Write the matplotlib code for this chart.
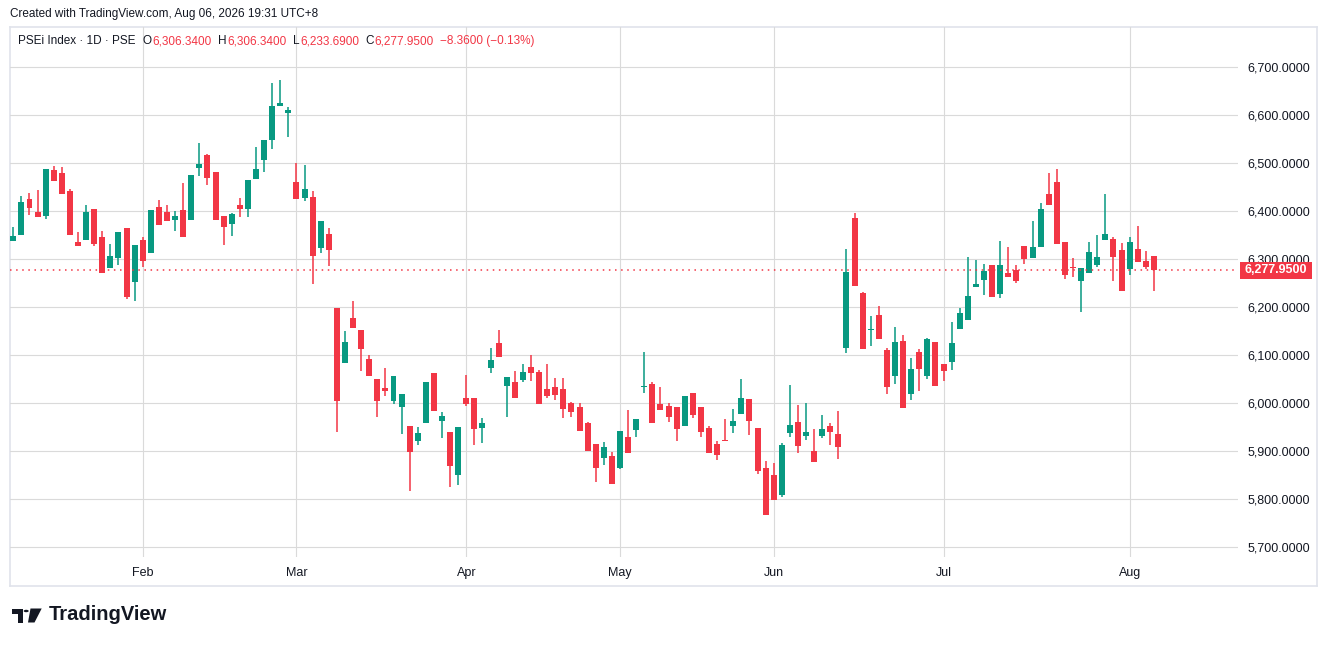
import matplotlib
matplotlib.use("Agg")
import matplotlib.pyplot as plt
from matplotlib.patches import Rectangle, Polygon, Circle

W, H = 1327, 646

# daily candles, PSEi, mid-Jan .. Aug 6 2026
opens = [6338.8, 6351.3, 6425.6, 6398.5, 6390.9, 6486.0, 6479.8, 6442.3, 6336.0, 6340.9,
         6404.8, 6346.5, 6282.6, 6303.5, 6365.2, 6253.4, 6340.2, 6313.8, 6408.9, 6398.5,
         6381.9, 6402.7, 6382.6, 6490.9, 6517.3, 6481.9, 6390.2, 6374.3, 6413.2, 6405.5,
         6468.0, 6507.6, 6549.3, 6620.1, 6605.5, 6461.1, 6428.4, 6429.8, 6324.3, 6352.8,
         6198.5, 6084.6, 6177.7, 6152.7, 6092.3, 6050.6, 6031.8, 6005.5, 5993.0, 5952.7,
         5922.1, 5959.6, 6063.1, 5963.8, 5940.2, 5851.3, 6011.0, 6011.0, 5949.2, 6074.2,
         6125.6, 6036.7, 6044.3, 6049.2, 6075.6, 6065.2, 6029.8, 6033.9, 6029.8, 6000.6,
         5992.3, 5958.9, 5915.2, 5886.7, 5890.2, 5865.9, 5929.8, 5945.0, 6033.9, 6040.2,
         5998.5, 5994.3, 5992.3, 5952.7, 6021.4, 5992.3, 5948.5, 5915.2, 5923.6, 5953.4,
         5978.4, 6009.0, 5948.6, 5865.2, 5850.7, 5809.0, 5938.9, 5961.1, 5932.6, 5900.7,
         5932.6, 5952.7, 5936.1, 6115.9, 6386.0, 6229.8, 6153.4, 6183.9, 6111.0, 6057.6,
         6129.8, 6020.1, 6106.9, 6057.6, 6127.7, 6081.9, 6086.7, 6155.5, 6173.6, 6243.0,
         6257.6, 6288.2, 6228.4, 6271.5, 6277.7, 6327.7, 6303.4, 6326.4, 6436.1, 6461.1,
         6336.1, 6284.0, 6255.5, 6272.2, 6288.9, 6340.2, 6342.3, 6319.4, 6280.5, 6321.5,
         6296.5, 6306.34]
highs = [6368.0, 6431.9, 6438.0, 6444.4, 6488.1, 6495.1, 6492.3, 6446.5, 6356.9, 6413.1,
         6404.8, 6359.0, 6331.9, 6356.9, 6365.2, 6329.8, 6346.5, 6402.7, 6423.5, 6413.1,
         6400.6, 6458.9, 6475.6, 6542.3, 6519.4, 6481.9, 6390.2, 6396.5, 6428.4, 6465.2,
         6534.0, 6548.6, 6667.3, 6673.6, 6617.3, 6500.6, 6496.5, 6442.3, 6379.8, 6365.2,
         6198.5, 6150.6, 6213.1, 6152.7, 6100.6, 6050.6, 6073.5, 6056.8, 6019.3, 5952.7,
         5950.6, 6044.3, 6063.1, 5981.8, 5940.2, 5950.6, 6058.9, 6011.0, 5969.3, 6115.2,
         6152.7, 6054.1, 6067.3, 6081.8, 6100.6, 6069.3, 6081.8, 6052.7, 6052.7, 6002.7,
         6000.6, 5961.0, 5915.2, 5919.3, 5898.5, 5942.3, 5986.0, 5967.3, 6106.8, 6044.3,
         6033.9, 6000.6, 5992.3, 6015.2, 6021.4, 5992.3, 5952.7, 5921.5, 5967.3, 5988.2,
         6050.7, 6009.0, 5948.6, 5879.8, 5875.7, 5917.3, 6038.2, 5996.5, 6000.7, 5946.5,
         5975.7, 5959.0, 5984.0, 6321.4, 6396.4, 6231.9, 6181.9, 6202.7, 6115.2, 6158.9,
         6142.3, 6094.4, 6113.1, 6136.0, 6127.7, 6081.9, 6169.4, 6198.5, 6304.8, 6298.6,
         6290.2, 6288.2, 6338.2, 6325.7, 6288.2, 6327.7, 6379.8, 6417.3, 6479.8, 6488.2,
         6336.1, 6302.7, 6281.9, 6336.1, 6350.7, 6436.0, 6346.5, 6334.0, 6346.5, 6369.4,
         6317.3, 6306.34]
lows = [6338.8, 6351.3, 6393.0, 6388.8, 6384.6, 6463.8, 6436.7, 6351.3, 6328.4, 6340.9,
        6328.4, 6272.1, 6282.6, 6288.2, 6218.0, 6213.8, 6284.7, 6313.8, 6372.1, 6380.5,
        6359.7, 6347.2, 6382.6, 6474.3, 6454.8, 6382.6, 6330.5, 6349.3, 6388.9, 6388.9,
        6468.0, 6482.6, 6530.5, 6620.1, 6555.5, 6426.4, 6422.2, 6249.3, 6313.9, 6286.8,
        5940.9, 6084.6, 6157.5, 6067.3, 6057.5, 5972.1, 6015.2, 5999.2, 5936.7, 5818.0,
        5913.8, 5959.6, 5984.6, 5928.4, 5826.3, 5830.5, 5995.0, 5913.8, 5917.3, 6063.8,
        6097.1, 5972.1, 6011.7, 6045.0, 6046.4, 5998.5, 6011.0, 6006.8, 5969.3, 5971.4,
        5943.0, 5901.3, 5836.7, 5872.1, 5832.5, 5863.8, 5897.1, 5930.5, 6021.4, 5958.9,
        5986.0, 5961.0, 5921.4, 5952.7, 5969.3, 5929.8, 5897.1, 5882.6, 5921.5, 5938.9,
        5978.4, 5934.7, 5853.4, 5768.0, 5799.3, 5805.5, 5930.5, 5897.2, 5924.3, 5878.4,
        5928.4, 5913.8, 5884.7, 6105.5, 6245.1, 6113.8, 6120.1, 6134.6, 6020.1, 6040.9,
        5990.9, 6007.6, 6026.3, 6051.3, 6036.7, 6047.1, 6070.1, 6155.5, 6173.6, 6243.0,
        6226.4, 6222.2, 6220.1, 6263.9, 6251.3, 6290.9, 6303.4, 6326.4, 6413.9, 6332.6,
        6259.7, 6263.9, 6190.9, 6272.2, 6284.7, 6340.2, 6255.5, 6234.7, 6268.0, 6295.1,
        6280.5, 6233.69]
closes = [6348.5, 6419.4, 6407.6, 6388.8, 6488.1, 6463.8, 6436.7, 6351.3, 6328.4, 6398.5,
          6332.6, 6272.1, 6306.9, 6356.9, 6222.2, 6329.8, 6297.2, 6402.7, 6372.1, 6380.5,
          6390.2, 6347.2, 6475.6, 6498.6, 6470.1, 6382.6, 6368.0, 6394.4, 6405.5, 6465.2,
          6488.2, 6548.6, 6619.4, 6625.6, 6611.1, 6426.4, 6446.5, 6307.6, 6379.8, 6320.1,
          6005.5, 6127.7, 6157.5, 6113.8, 6057.5, 6005.5, 6026.3, 6056.8, 6019.3, 5899.2,
          5938.1, 6044.3, 5984.6, 5973.5, 5870.0, 5950.6, 5999.2, 5947.1, 5958.9, 6090.2,
          6097.1, 6054.1, 6011.7, 6065.2, 6063.1, 5998.5, 6015.2, 6017.3, 5988.1, 5981.8,
          5943.0, 5901.3, 5865.9, 5908.9, 5832.5, 5942.3, 5897.1, 5967.3, 6036.0, 5958.9,
          5986.0, 5971.4, 5946.4, 6015.2, 5975.6, 5940.2, 5897.1, 5893.0, 5921.5, 5963.2,
          6011.1, 5963.9, 5859.7, 5768.0, 5799.3, 5913.2, 5954.8, 5911.1, 5940.2, 5878.4,
          5946.5, 5940.9, 5909.7, 6273.5, 6245.1, 6113.8, 6154.8, 6134.6, 6034.6, 6127.7,
          5990.9, 6071.5, 6072.1, 6134.0, 6036.7, 6068.0, 6125.6, 6188.1, 6223.6, 6248.6,
          6275.7, 6222.2, 6288.2, 6263.9, 6255.5, 6300.7, 6325.7, 6404.8, 6413.9, 6332.6,
          6268.0, 6282.6, 6281.9, 6315.2, 6304.8, 6352.7, 6304.8, 6234.7, 6336.0, 6295.1,
          6284.7, 6277.95]

# first trading bar of each month
month_labels = ["Feb", "Mar", "Apr", "May", "Jun", "Jul", "Aug"]
month_start = [16, 35, 56, 75, 94, 115, 138]

price_ticks = [5700, 5800, 5900, 6000, 6100, 6200, 6300, 6400, 6500, 6600, 6700]
last_price = 6277.95
change = -8.36
change_pct = -0.13

UP = "#089981"
DOWN = "#F23645"
TXT = "#131722"
GRID = "#DADADA"

plt.rcParams['font.family'] = ['Liberation Sans', 'DejaVu Sans']

fig = plt.figure(figsize=(W / 100, H / 100), dpi=100)
fig.patch.set_facecolor("white")


def fx(px):
    return px / W


def fy(py):
    return 1 - py / H


# outer frame of the chart
frame = fig.add_axes([fx(10), fy(586), fx(1317) - fx(10), fy(27) - fy(586)])
frame.set_xticks([])
frame.set_yticks([])
for s in frame.spines.values():
    s.set_color("#E0E3EB")
    s.set_linewidth(1.2)
frame.set_zorder(0)

ax = fig.add_axes([fx(10), fy(557), fx(1238) - fx(10), fy(27) - fy(557)])
ax.set_facecolor("none")
ax.set_zorder(1)
for s in ax.spines.values():
    s.set_visible(False)

n = len(opens)
xs = list(range(n))
cols = [UP if c >= o else DOWN for o, c in zip(opens, closes)]
bottoms = [min(o, c) for o, c in zip(opens, closes)]
heights = [max(abs(c - o), 2.2) for o, c in zip(opens, closes)]

ax.vlines(xs, lows, highs, colors=cols, linewidth=1.1, zorder=3)
ax.bar(xs, heights, bottom=bottoms, width=0.74, color=cols, linewidth=0, zorder=4)

ax.axhline(last_price, color=DOWN, linestyle=(0, (1, 3)), linewidth=1.1, zorder=5)

ax.set_xlim(-0.41, 151.4)
ax.set_ylim(5679.8, 6784)

ax.set_xticks(month_start)
ax.set_xticklabels(month_labels)
ax.set_yticks(price_ticks)
ax.set_yticklabels([f"{p:,.4f}" for p in price_ticks])
ax.yaxis.tick_right()
ax.tick_params(axis="both", length=0, labelsize=9, labelcolor=TXT)
ax.tick_params(axis="x", pad=7)
ax.tick_params(axis="y", pad=7)
ax.grid(True, color=GRID, linewidth=0.8, zorder=0)
ax.set_axisbelow(True)

# last price tag on the price scale
fig.patches.append(Rectangle((fx(1240), fy(279)), fx(1312) - fx(1240), fy(262) - fy(279),
                             transform=fig.transFigure, fc=DOWN, ec="none", zorder=9))
fig.text(fx(1276), fy(270.5), f"{last_price:,.4f}", ha="center", va="center",
         fontsize=9, fontweight="bold", color="white", zorder=10)

# header lines
fig.text(fx(10), fy(14), "Created with TradingView.com, Aug 06, 2026 19:31 UTC+8",
         fontsize=8.5, color=TXT, ha="left", va="center")

fig.canvas.draw()
rend = fig.canvas.get_renderer()
parts = [
    ("PSEi Index \u00b7 1D \u00b7 PSE", TXT, 7),
    ("O", TXT, 1), (f"{opens[-1]:,.4f}", DOWN, 6),
    ("H", TXT, 1), (f"{highs[-1]:,.4f}", DOWN, 6),
    ("L", TXT, 1), (f"{lows[-1]:,.4f}", DOWN, 6),
    ("C", TXT, 1), (f"{closes[-1]:,.4f}", DOWN, 6),
    (f"\u2212{abs(change):.4f} (\u2212{abs(change_pct):.2f}%)", DOWN, 0),
]
x = 18
for s, c, gap in parts:
    t = fig.text(fx(x), fy(41), s, fontsize=8.5, color=c, ha="left", va="center", zorder=20)
    bb = t.get_window_extent(renderer=rend)
    x = bb.x1 + gap

# TradingView logo
logo = "#131722"
fig.patches.append(Polygon([(fx(12.3), fy(608.5)), (fx(22.5), fy(608.5)), (fx(22.5), fy(622.5)),
                            (fx(17.5), fy(622.5)), (fx(17.5), fy(613.5)), (fx(12.3), fy(613.5))],
                           closed=True, transform=fig.transFigure, fc=logo, ec="none"))
fig.patches.append(Circle((fx(26.2), fy(611)), 2.5 / W, transform=fig.transFigure,
                          fc=logo, ec="none"))
fig.patches.append(Polygon([(fx(30.5), fy(608.5)), (fx(41.7), fy(608.5)), (fx(34.5), fy(622.5)),
                            (fx(28), fy(622.5))],
                           closed=True, transform=fig.transFigure, fc=logo, ec="none"))
fig.text(fx(49), fy(615), "TradingView", fontsize=14.5, fontweight="bold", color=logo,
         ha="left", va="center")

fig.savefig("out.png", dpi=100, facecolor="white")
